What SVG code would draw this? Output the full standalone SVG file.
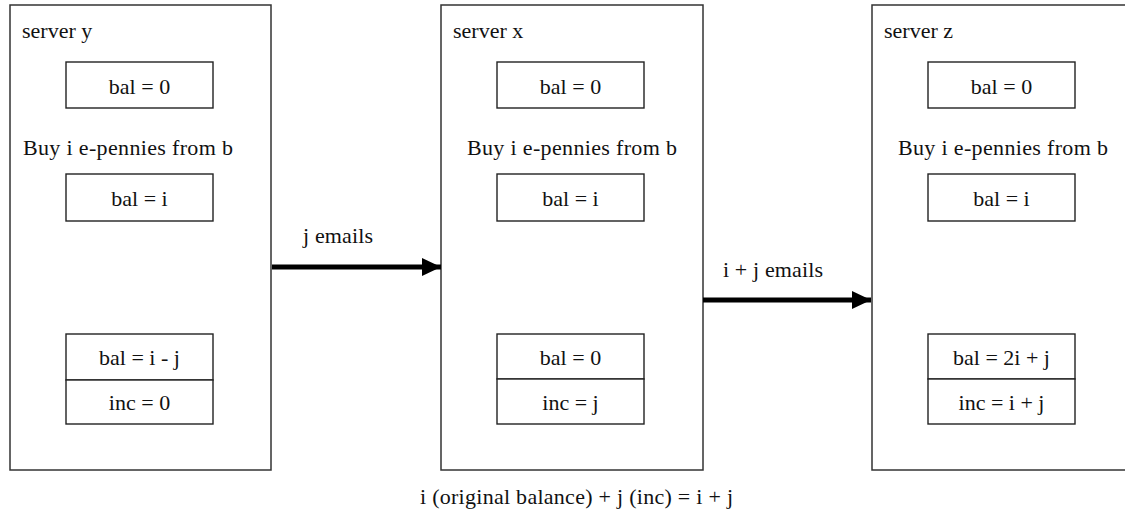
<svg xmlns="http://www.w3.org/2000/svg" width="1125" height="512" viewBox="0 0 1125 512">
<style>
.srv{fill:#fff;stroke:#333;stroke-width:1.5}
.box{fill:#fff;stroke:#222;stroke-width:1.4}
text{font-family:"Liberation Serif","Times New Roman",serif;font-size:22px;fill:#111}
.c{text-anchor:middle}
.edge{stroke:#000;stroke-width:5;fill:none}
</style>
<defs>
<marker id="ah" markerUnits="userSpaceOnUse" markerWidth="20" markerHeight="20" refX="19" refY="9" orient="auto">
<path d="M0,0 L19,9 L0,18 Z" fill="#000"/>
</marker>
</defs>
<rect width="1125" height="512" fill="#fff"/>
<g id="server-y">
<rect class="srv" x="10" y="5" width="261" height="465"/>
<text x="22" y="38">server y</text>
<rect class="box" x="66" y="62" width="147" height="46"/>
<text class="c" x="139.5" y="94">bal = 0</text>
<text x="23" y="155" textLength="210">Buy i e-pennies from b</text>
<rect class="box" x="66" y="174" width="147" height="47"/>
<text class="c" x="139.5" y="206">bal = i</text>
<rect class="box" x="66" y="334" width="147" height="46"/>
<rect class="box" x="66" y="380" width="147" height="44"/>
<text class="c" x="139.5" y="365">bal = i - j</text>
<text class="c" x="139.5" y="410">inc = 0</text>
</g>
<g id="server-x">
<rect class="srv" x="441" y="5" width="262" height="465"/>
<text x="453" y="38">server x</text>
<rect class="box" x="497" y="62" width="147" height="46"/>
<text class="c" x="570.5" y="94">bal = 0</text>
<text x="467" y="155" textLength="210">Buy i e-pennies from b</text>
<rect class="box" x="497" y="174" width="147" height="47"/>
<text class="c" x="570.5" y="206">bal = i</text>
<rect class="box" x="497" y="334" width="147" height="45"/>
<rect class="box" x="497" y="379" width="147" height="45"/>
<text class="c" x="570.5" y="365">bal = 0</text>
<text class="c" x="570.5" y="410">inc = j</text>
</g>
<g id="server-z">
<rect class="srv" x="872" y="5" width="262" height="465"/>
<text x="884" y="38">server z</text>
<rect class="box" x="928" y="62" width="147" height="46"/>
<text class="c" x="1001.5" y="94">bal = 0</text>
<text x="898" y="155" textLength="210">Buy i e-pennies from b</text>
<rect class="box" x="928" y="174" width="147" height="47"/>
<text class="c" x="1001.5" y="206">bal = i</text>
<rect class="box" x="928" y="334" width="147" height="45"/>
<rect class="box" x="928" y="379" width="147" height="45"/>
<text class="c" x="1001.5" y="365">bal = 2i + j</text>
<text class="c" x="1001.5" y="410">inc = i + j</text>
</g>
<g id="connectors">
<line class="edge" x1="272" y1="267" x2="441" y2="267" marker-end="url(#ah)"/>
<text x="303" y="243" textLength="70">j emails</text>
<line class="edge" x1="703" y1="300" x2="871" y2="300" marker-end="url(#ah)"/>
<text x="723" y="277" textLength="100">i + j emails</text>
</g>
<text x="420" y="504" textLength="313">i (original balance) + j (inc) = i + j</text>
</svg>
